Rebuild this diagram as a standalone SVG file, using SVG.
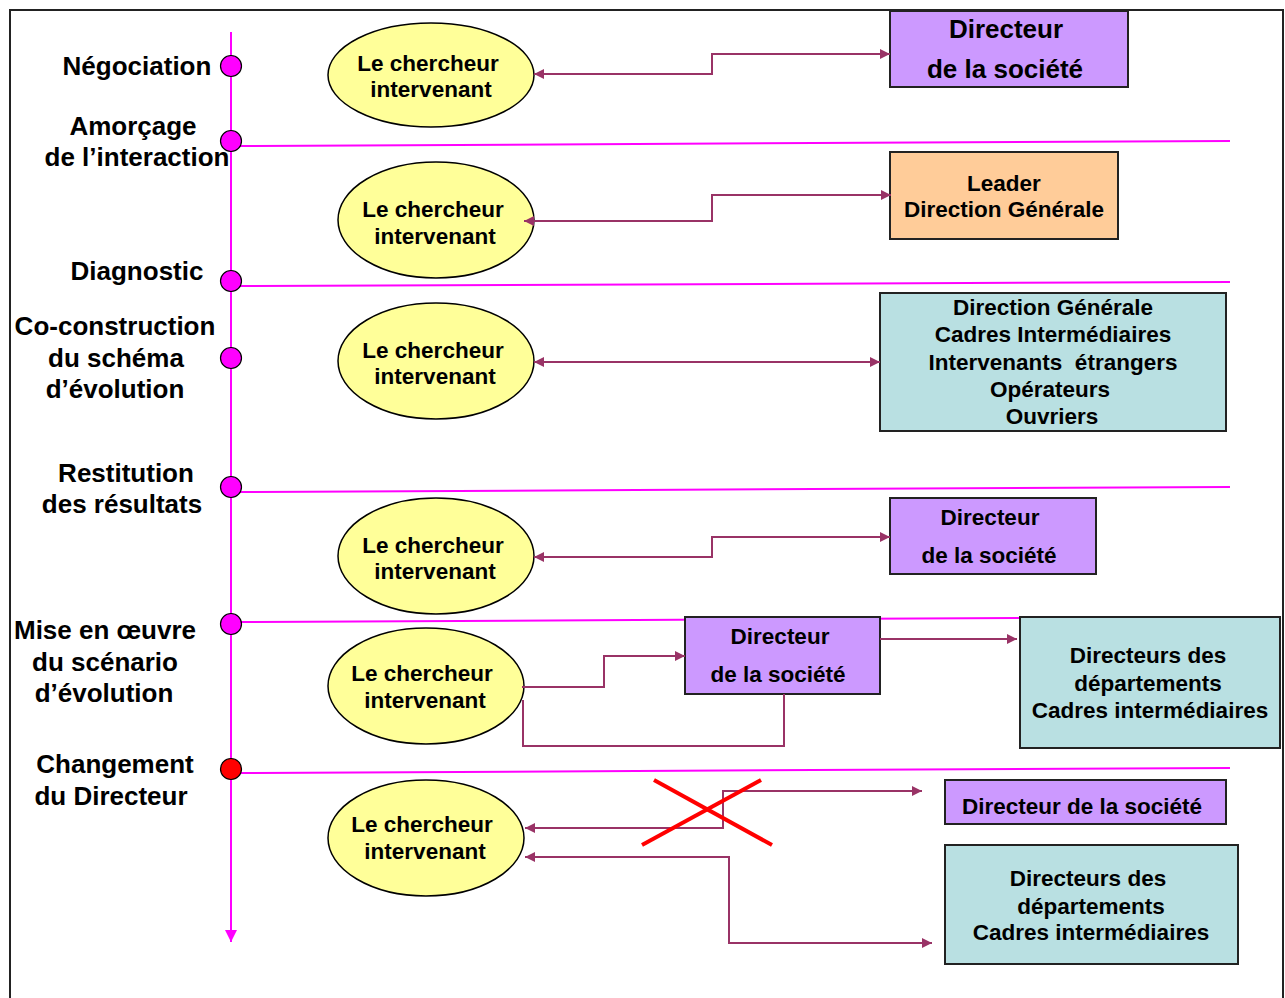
<svg xmlns="http://www.w3.org/2000/svg" width="1285" height="998" viewBox="0 0 1285 998">
<style>
text{font-family:"Liberation Sans",Arial,sans-serif;font-weight:bold;fill:#000;text-anchor:middle}
.lbl{font-size:26px}
.t{font-size:22.5px}
.big{font-size:26px}
.ell{fill:#FFFF99;stroke:#000;stroke-width:1.5}
.pur{fill:#CC99FF;stroke:#222;stroke-width:2}
.org{fill:#FFCC99;stroke:#222;stroke-width:2}
.teal{fill:#B9E0E2;stroke:#222;stroke-width:2}
.dot{fill:#FF00FF;stroke:#000;stroke-width:1.2}
.sep{stroke:#FF00FF;stroke-width:2;fill:none}
.con{stroke:#993366;stroke-width:2;fill:none}
</style>
<defs>
<marker id="ah" viewBox="0 0 10 10" refX="10" refY="5" markerWidth="10" markerHeight="10" markerUnits="userSpaceOnUse" orient="auto-start-reverse">
<path d="M0,0 L10,5 L0,10 Z" fill="#993366"/>
</marker>
<marker id="tl" viewBox="0 0 10 10" refX="10" refY="5" markerWidth="12" markerHeight="12" markerUnits="userSpaceOnUse" orient="auto">
<path d="M0,0 L10,5 L0,10 Z" fill="#FF00FF"/>
</marker>
</defs>
<rect x="0" y="0" width="1285" height="998" fill="#fff"/>
<rect x="10" y="10" width="1273" height="1000" fill="none" stroke="#222" stroke-width="2"/>

<g id="timeline">
<line x1="231" y1="32" x2="231" y2="942" class="sep" marker-end="url(#tl)"/>
<line x1="240" y1="146" x2="1230" y2="141" class="sep"/>
<line x1="240" y1="286" x2="1230" y2="282" class="sep"/>
<line x1="240" y1="492" x2="1230" y2="487" class="sep"/>
<line x1="240" y1="622" x2="1230" y2="617" class="sep"/>
<line x1="240" y1="773" x2="1230" y2="768" class="sep"/>
</g>

<g id="stages">
<g id="s-negociation"><circle cx="231" cy="66" r="10.5" class="dot"/><text class="lbl" x="137" y="75">Négociation</text></g>
<g id="s-amorcage"><circle cx="231" cy="141" r="10.5" class="dot"/><text class="lbl" x="133" y="135">Amorçage</text><text class="lbl" x="137" y="166">de l’interaction</text></g>
<g id="s-diagnostic"><circle cx="231" cy="281" r="10.5" class="dot"/><text class="lbl" x="137" y="280">Diagnostic</text></g>
<g id="s-coconstruction"><circle cx="231" cy="358" r="10.5" class="dot"/><text class="lbl" x="115" y="335">Co-construction</text><text class="lbl" x="116" y="367">du schéma</text><text class="lbl" x="115" y="398">d’évolution</text></g>
<g id="s-restitution"><circle cx="231" cy="487" r="10.5" class="dot"/><text class="lbl" x="126" y="482">Restitution</text><text class="lbl" x="122" y="513">des résultats</text></g>
<g id="s-mise"><circle cx="231" cy="624" r="10.5" class="dot"/><text class="lbl" x="105" y="639">Mise en œuvre</text><text class="lbl" x="105" y="671">du scénario</text><text class="lbl" x="104" y="702">d’évolution</text></g>
<g id="s-changement"><circle cx="231" cy="769" r="10.5" fill="#FF0000" stroke="#000" stroke-width="1.2"/><text class="lbl" x="115" y="773">Changement</text><text class="lbl" x="111" y="805">du Directeur</text></g>
</g>

<g id="researcher-1"><ellipse cx="431" cy="75" rx="103" ry="52" class="ell"/><text class="t" x="428" y="71">Le chercheur</text><text class="t" x="431" y="97">intervenant</text></g>
<g id="researcher-2"><ellipse cx="436" cy="220" rx="98" ry="58" class="ell"/><text class="t" x="433" y="217">Le chercheur</text><text class="t" x="435" y="244">intervenant</text></g>
<g id="researcher-3"><ellipse cx="436" cy="361" rx="98" ry="58" class="ell"/><text class="t" x="433" y="358">Le chercheur</text><text class="t" x="435" y="384">intervenant</text></g>
<g id="researcher-4"><ellipse cx="436" cy="556" rx="98" ry="58" class="ell"/><text class="t" x="433" y="553">Le chercheur</text><text class="t" x="435" y="579">intervenant</text></g>
<g id="researcher-5"><ellipse cx="426" cy="686" rx="98" ry="58" class="ell"/><text class="t" x="422" y="681">Le chercheur</text><text class="t" x="425" y="708">intervenant</text></g>
<g id="researcher-6"><ellipse cx="426" cy="838" rx="98" ry="58" class="ell"/><text class="t" x="422" y="832">Le chercheur</text><text class="t" x="425" y="859">intervenant</text></g>

<g id="box-directeur-1"><rect x="890" y="11" width="238" height="76" class="pur"/><text class="big" x="1006" y="38">Directeur</text><text class="big" x="1005" y="78">de la société</text></g>
<g id="box-leader"><rect x="890" y="152" width="228" height="87" class="org"/><text class="t" x="1004" y="191">Leader</text><text class="t" x="1004" y="217">Direction Générale</text></g>
<g id="box-groupes"><rect x="880" y="293" width="346" height="138" class="teal"/>
<text class="t" x="1053" y="315">Direction Générale</text>
<text class="t" x="1053" y="342">Cadres Intermédiaires</text>
<text class="t" x="1053" y="370" xml:space="preserve">Intervenants  étrangers</text>
<text class="t" x="1050" y="397">Opérateurs</text>
<text class="t" x="1052" y="424">Ouvriers</text></g>
<g id="box-directeur-2"><rect x="890" y="498" width="206" height="76" class="pur"/><text class="t" x="990" y="525">Directeur</text><text class="t" x="989" y="563">de la société</text></g>
<g id="box-directeur-3"><rect x="685" y="617" width="195" height="77" class="pur"/><text class="t" x="780" y="644">Directeur</text><text class="t" x="778" y="682">de la société</text></g>
<g id="box-departements-1"><rect x="1020" y="617" width="260" height="131" class="teal"/><text class="t" x="1148" y="663">Directeurs des</text><text class="t" x="1148" y="691">départements</text><text class="t" x="1150" y="718">Cadres intermédiaires</text></g>
<g id="box-directeur-4"><rect x="945" y="780" width="281" height="44" class="pur"/><text class="t" x="1082" y="814">Directeur de la société</text></g>
<g id="box-departements-2"><rect x="945" y="845" width="293" height="119" class="teal"/><text class="t" x="1088" y="886">Directeurs des</text><text class="t" x="1091" y="914">départements</text><text class="t" x="1091" y="940">Cadres intermédiaires</text></g>

<g id="connectors">
<polyline class="con" points="534,74 712,74 712,54 890,54" marker-start="url(#ah)" marker-end="url(#ah)"/>
<polyline class="con" points="524,221 712,221 712,195 891,195" marker-start="url(#ah)" marker-end="url(#ah)"/>
<polyline class="con" points="534,362 880,362" marker-start="url(#ah)" marker-end="url(#ah)"/>
<polyline class="con" points="534,557 712,557 712,537 890,537" marker-start="url(#ah)" marker-end="url(#ah)"/>
<polyline class="con" points="522,687 604,687 604,656 685,656" marker-end="url(#ah)"/>
<polyline class="con" points="880,639 1017,639" marker-end="url(#ah)"/>
<polyline class="con" points="523,700 523,746 784,746 784,694"/>
<polyline class="con" points="525,828 723,828 723,791 922,791" marker-start="url(#ah)" marker-end="url(#ah)"/>
<polyline class="con" points="525,857 729,857 729,943 932,943" marker-start="url(#ah)" marker-end="url(#ah)"/>
<g id="cross" stroke="#FF0000" stroke-width="4">
<line x1="642" y1="845" x2="761" y2="780"/>
<line x1="654" y1="780" x2="772" y2="845"/>
</g>
</g>
</svg>
